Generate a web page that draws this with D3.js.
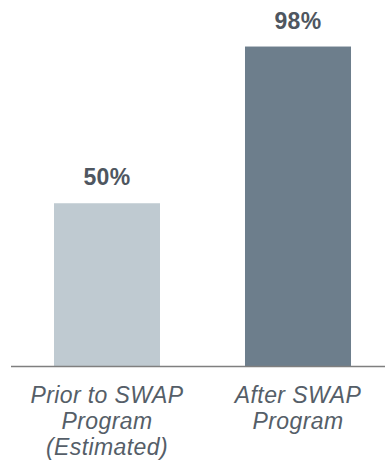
<!DOCTYPE html>
<html>
<head>
<meta charset="utf-8">
<script src="https://cdn.jsdelivr.net/npm/d3@7"></script>
<style>
    body { margin: 0; background: #fff; }
    svg { display: block; }
</style>
</head>
<body>
<div id="chart"></div>
<script>
// data
var categories = ["Prior to SWAP Program (Estimated)", "After SWAP Program"];
var categoryLines = [["Prior to SWAP", "Program", "(Estimated)"], ["After SWAP", "Program"]];
var values = [50, 98];
var valueLabels = ["50%", "98%"];
var barColors = ["#bfcad1", "#6d7e8c"];

var width = 385, height = 465;
var baseline = 366.5;

var svg = d3.select("#chart").append("svg").attr("width", width).attr("height", height);

var x = d3.scaleBand().domain(categories).range([20, 385]).paddingInner(0.445).paddingOuter(0.178);
var y = d3.scaleLinear().domain([0, 100]).range([baseline, 40]);

// bars
svg.selectAll("rect.bar").data(categories).enter().append("rect")
    .attr("class", "bar")
    .attr("x", function (d) { return x(d); })
    .attr("width", x.bandwidth())
    .attr("y", function (d, i) { return y(values[i]); })
    .attr("height", function (d, i) { return baseline - y(values[i]); })
    .attr("fill", function (d, i) { return barColors[i]; });

// axis line
svg.append("line")
    .attr("x1", 11).attr("x2", 385)
    .attr("y1", baseline).attr("y2", baseline)
    .attr("stroke", "#7f7f7f").attr("stroke-width", 1.5);

// value labels
svg.selectAll("text.val").data(categories).enter().append("text")
    .attr("class", "val")
    .attr("x", function (d) { return x(d) + x.bandwidth() / 2; })
    .attr("y", function (d, i) { return y(values[i]) - 18; })
    .attr("text-anchor", "middle")
    .attr("font-family", "Liberation Sans, Arial, sans-serif")
    .attr("font-weight", "bold")
    .attr("font-size", 23)
    .attr("letter-spacing", 0.4)
    .attr("fill", "#4e5660")
    .text(function (d, i) { return valueLabels[i]; });

// category labels
var cat = svg.selectAll("text.cat").data(categories).enter().append("text")
    .attr("class", "cat")
    .attr("text-anchor", "middle")
    .attr("font-family", "Liberation Sans, Arial, sans-serif")
    .attr("font-style", "italic")
    .attr("font-size", 23)
    .attr("letter-spacing", 0.4)
    .attr("fill", "#555e68");
cat.each(function (d, i) {
    var cx = x(d) + x.bandwidth() / 2;
    d3.select(this).selectAll("tspan").data(categoryLines[i]).enter().append("tspan")
        .attr("x", cx)
        .attr("y", function (t, j) { return 403 + j * 26; })
        .text(function (t) { return t; });
});
</script>
</body>
</html>
